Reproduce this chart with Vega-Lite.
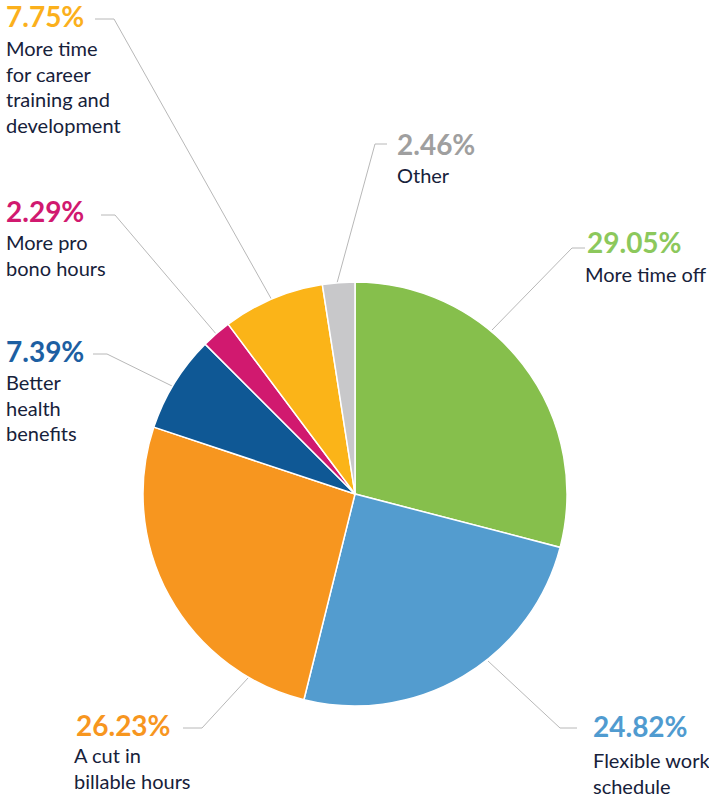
{
  "$schema": "https://vega.github.io/schema/vega-lite/v6.json",
  "width": 709,
  "height": 800,
  "autosize": "none",
  "padding": 0,
  "background": "white",
  "config": {"view": {"stroke": null}, "axis": {"disable": true}},
  "datasets": {
    "slices": [
      {"category": "More time off", "value": 29.05, "order": 1, "lx": 232, "ly": 241, "dx": 230, "dy": 212, "desc": "More time off"},
      {"category": "Flexible work schedule", "value": 24.82, "order": 2, "lx": 238, "ly": -243, "dx": 238, "dy": -274, "desc": "Flexible work\nschedule"},
      {"category": "A cut in billable hours", "value": 26.23, "order": 3, "lx": -279, "ly": -242, "dx": -281, "dy": -269, "desc": "A cut in\nbillable hours"},
      {"category": "Better health benefits", "value": 7.39, "order": 4, "lx": -349, "ly": 132, "dx": -349, "dy": 104, "desc": "Better\nhealth\nbenefits"},
      {"category": "More pro bono hours", "value": 2.29, "order": 5, "lx": -349, "ly": 272, "dx": -349, "dy": 244, "desc": "More pro\nbono hours"},
      {"category": "More time for career training and development", "value": 7.75, "order": 6, "lx": -349, "ly": 467, "dx": -349, "dy": 438, "desc": "More time\nfor career\ntraining and\ndevelopment"},
      {"category": "Other", "value": 2.46, "order": 7, "lx": 42, "ly": 339, "dx": 42, "dy": 311, "desc": "Other"}
    ],
    "leaders": [
      {"category": "More time for career training and development", "step": 1, "x": -260, "y": 475},
      {"category": "More time for career training and development", "step": 2, "x": -241, "y": 475},
      {"category": "More time for career training and development", "step": 3, "x": -82, "y": 192},
      {"category": "More pro bono hours", "step": 1, "x": -254, "y": 279},
      {"category": "More pro bono hours", "step": 2, "x": -240, "y": 279},
      {"category": "More pro bono hours", "step": 3, "x": -138, "y": 159},
      {"category": "Better health benefits", "step": 1, "x": -262, "y": 140},
      {"category": "Better health benefits", "step": 2, "x": -248, "y": 140},
      {"category": "Better health benefits", "step": 3, "x": -183, "y": 108},
      {"category": "Other", "step": 1, "x": 32, "y": 350},
      {"category": "Other", "step": 2, "x": 20, "y": 350},
      {"category": "Other", "step": 3, "x": -18, "y": 211},
      {"category": "More time off", "step": 1, "x": 230, "y": 246},
      {"category": "More time off", "step": 2, "x": 217, "y": 246},
      {"category": "More time off", "step": 3, "x": 137, "y": 164},
      {"category": "A cut in billable hours", "step": 1, "x": -172, "y": -234},
      {"category": "A cut in billable hours", "step": 2, "x": -153, "y": -234},
      {"category": "A cut in billable hours", "step": 3, "x": -107, "y": -184},
      {"category": "Flexible work schedule", "step": 1, "x": 222, "y": -234},
      {"category": "Flexible work schedule", "step": 2, "x": 205, "y": -234},
      {"category": "Flexible work schedule", "step": 3, "x": 133, "y": -167}
    ]
  },
  "resolve": {"scale": {"color": "independent"}},
  "layer": [
    {
      "data": {"name": "leaders"},
      "mark": {"type": "line", "color": "#b8b8b8", "strokeWidth": 1},
      "encoding": {
        "x": {"field": "x", "type": "quantitative", "scale": {"domain": [-355, 354], "nice": false, "zero": false}},
        "y": {"field": "y", "type": "quantitative", "scale": {"domain": [-306, 494], "nice": false, "zero": false}},
        "detail": {"field": "category"},
        "order": {"field": "step"}
      }
    },
    {
      "data": {"name": "slices"},
      "mark": {"type": "arc", "outerRadius": 212, "stroke": "white", "strokeWidth": 1.5},
      "encoding": {
        "x": {"datum": 0, "type": "quantitative"},
        "y": {"datum": 0, "type": "quantitative"},
        "theta": {"field": "value", "type": "quantitative", "stack": true},
        "order": {"field": "order"},
        "color": {
          "field": "category", "type": "nominal", "legend": null,
          "scale": {
            "domain": ["More time off", "Flexible work schedule", "A cut in billable hours", "Better health benefits", "More pro bono hours", "More time for career training and development", "Other"],
            "range": ["#86bf4c", "#539ccf", "#f7961f", "#0f5895", "#d1196f", "#fbb418", "#c8c8ca"]
          }
        }
      }
    },
    {
      "data": {"name": "slices"},
      "transform": [{"calculate": "format(datum.value, '.2f') + '%'", "as": "pct"}],
      "mark": {"type": "text", "font": "Lato", "fontWeight": "bold", "fontSize": 28, "align": "left", "baseline": "alphabetic"},
      "encoding": {
        "x": {"field": "lx", "type": "quantitative"},
        "y": {"field": "ly", "type": "quantitative"},
        "text": {"field": "pct"},
        "color": {
          "field": "category", "type": "nominal", "legend": null,
          "scale": {
            "domain": ["More time off", "Flexible work schedule", "A cut in billable hours", "Better health benefits", "More pro bono hours", "More time for career training and development", "Other"],
            "range": ["#8cc85c", "#509bd0", "#f7961f", "#1d5fa2", "#d1196f", "#fbb01c", "#9f9f9f"]
          }
        }
      }
    },
    {
      "data": {"name": "slices"},
      "mark": {"type": "text", "font": "Lato", "fontSize": 20, "align": "left", "baseline": "alphabetic", "lineBreak": "\n", "lineHeight": 25.5, "color": "#16213a"},
      "encoding": {
        "x": {"field": "dx", "type": "quantitative"},
        "y": {"field": "dy", "type": "quantitative"},
        "text": {"field": "desc"}
      }
    }
  ]
}
